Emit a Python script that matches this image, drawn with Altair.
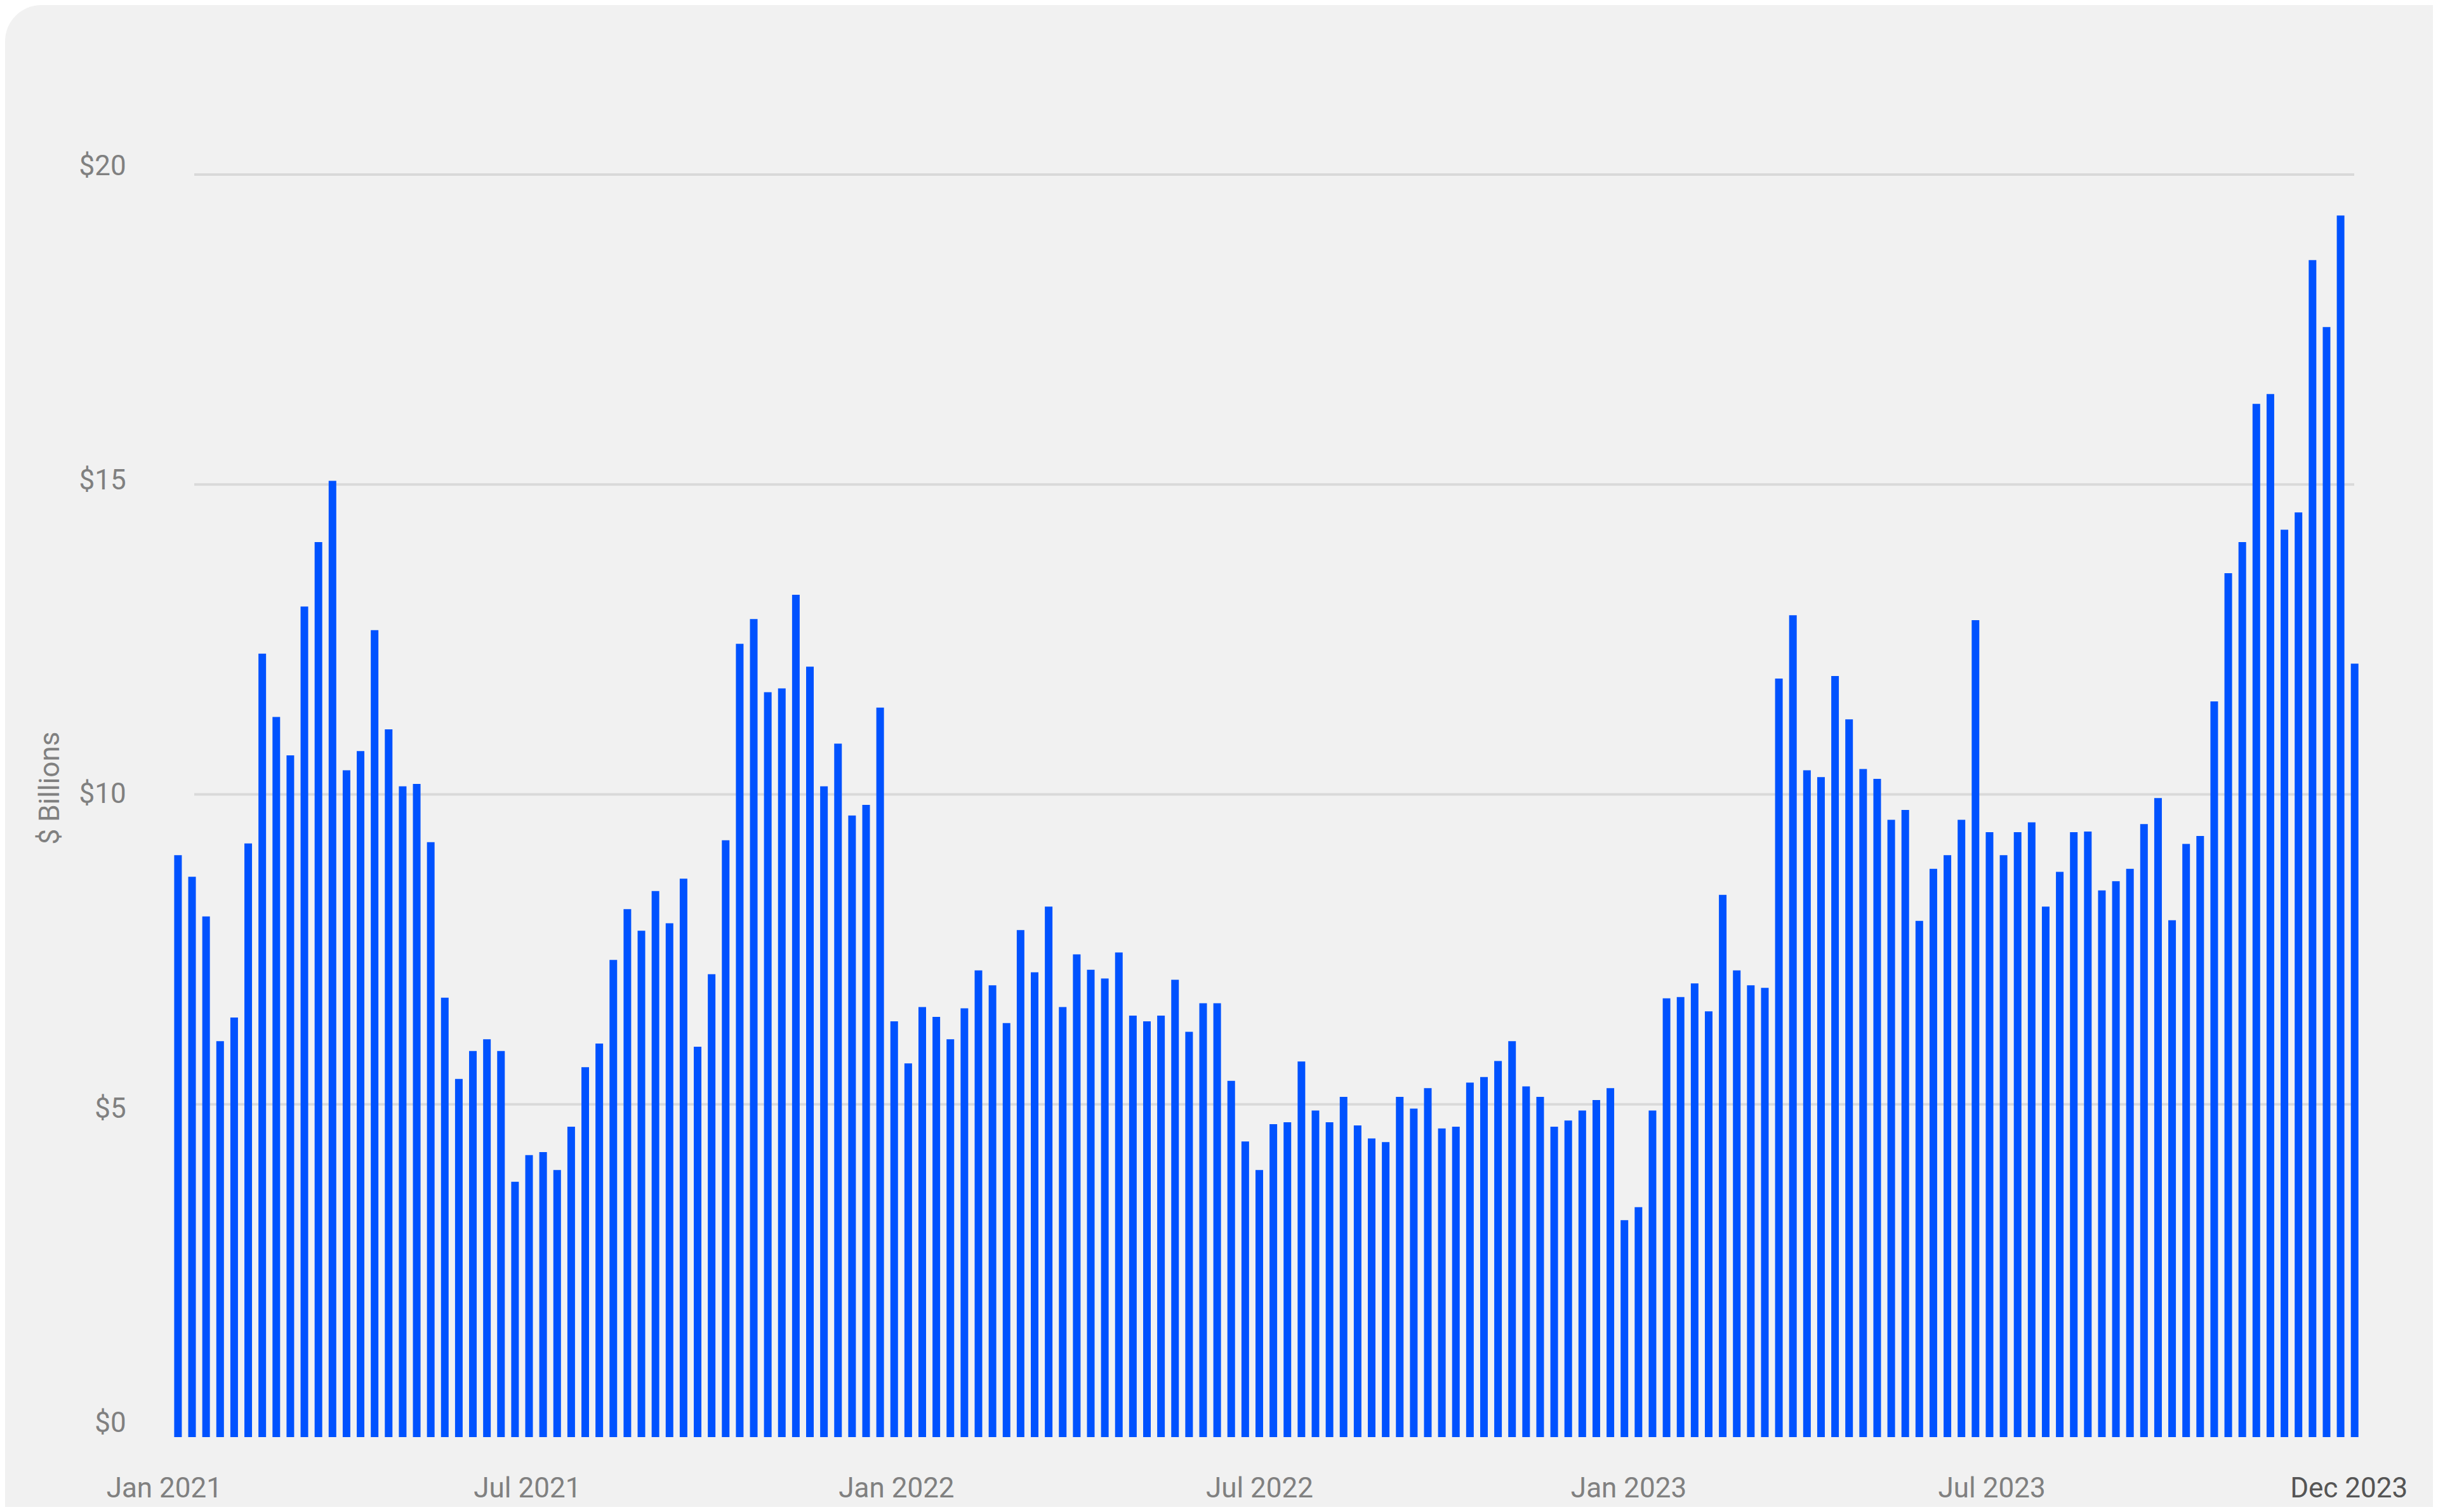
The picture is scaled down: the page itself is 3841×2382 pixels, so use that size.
import altair as alt
import pandas as pd

# Weekly values ($ billions), first week ending 2021-01-08
values = [
    9.02, 8.67, 8.03, 6.02, 6.40, 9.21, 12.27, 11.25, 10.63, 13.03, 14.07, 15.06,
    10.39, 10.70, 12.65, 11.05, 10.13, 10.17, 9.23, 6.72, 5.41, 5.86, 6.05, 5.86,
    3.75, 4.18, 4.23, 3.94, 4.64, 5.60, 5.98, 7.33, 8.15, 7.80, 8.44, 7.92, 8.64,
    5.93, 7.10, 9.26, 12.43, 12.83, 11.65, 11.71, 13.22, 12.06, 10.13, 10.82, 9.66,
    9.83, 11.40,
    6.34, 5.66, 6.57, 6.41, 6.05, 6.55, 7.16, 6.92, 6.31, 7.81, 7.13, 8.19, 6.57,
    7.42, 7.17, 7.03, 7.45, 6.43, 6.34, 6.43, 7.01, 6.17, 6.63, 6.63, 5.38, 4.40,
    3.94, 4.68, 4.71, 5.69, 4.90,
    4.71, 5.12, 4.66, 4.45, 4.39, 5.12, 4.93, 5.26, 4.61, 4.64, 5.35, 5.44, 5.70,
    6.02, 5.29, 5.12, 4.64, 4.74, 4.90, 5.07, 5.26, 3.13, 3.34, 4.90, 6.71, 6.73,
    6.95, 6.50, 8.38, 7.16, 6.92,
    6.88, 11.87, 12.89, 10.39, 10.28, 11.91, 11.21, 10.41, 10.25, 9.59, 9.75, 7.96,
    8.80, 9.02, 9.59, 12.81, 9.39, 9.02, 9.39, 9.55, 8.19, 8.75, 9.39, 9.40, 8.45,
    8.60, 8.80, 9.52, 9.94, 7.97, 9.20, 9.33, 11.50, 13.57, 14.07, 16.30, 16.46,
    14.27, 14.55, 18.62, 17.54, 19.34, 12.11,
]
weeks = pd.date_range("2021-01-08", periods=len(values), freq="7D")

y_ticks = [0, 5, 10, 15, 20]
grid_values = [5, 10, 15, 20]
x_ticks = [
    alt.DateTime(year=2021, month=1, date=1),
    alt.DateTime(year=2021, month=7, date=1),
    alt.DateTime(year=2022, month=1, date=1),
    alt.DateTime(year=2022, month=7, date=1),
    alt.DateTime(year=2023, month=1, date=1),
    alt.DateTime(year=2023, month=7, date=1),
    alt.DateTime(year=2023, month=12, date=26),
]

df = pd.DataFrame({"date": weeks, "value": values})
grid_df = pd.DataFrame({"value": grid_values})
bg_df = pd.DataFrame({"a": [0]})

W, H = 3467.7, 1989
PAD = {"left": 245.3, "top": 267, "right": 112, "bottom": 110}
BG = "#F1F1F1"
BLUE = "#0052FF"
GRAY = "#808080"
FONT = "Roboto"

xscale = alt.Scale(domain=[alt.DateTime(year=2021, month=1, date=1),
                           alt.DateTime(year=2023, month=12, date=31)])
yscale = alt.Scale(domain=[-0.3687, 20], nice=False, zero=False)

# the value labels sit slightly spread out relative to the gridlines
label_shift = {"condition": [
    {"test": "datum.value == 20", "value": -13},
    {"test": "datum.value == 15", "value": -6},
    {"test": "datum.value == 5", "value": 8},
    {"test": "datum.value == 0", "value": 15},
], "value": 0}

y_axis = alt.Axis(
    values=y_ticks, labelExpr="'$' + datum.value", grid=False, domain=False,
    ticks=False, tickSize=0, labelPadding=55, labelFontSize=44, labelFont=FONT,
    labelColor=GRAY, labelBaseline="middle", labelLimit=0, labelOffset=label_shift,
    title="$ Billions", titleFont=FONT, titleFontSize=44, titleFontWeight="normal",
    titleColor=GRAY, titleX=-161, titleY=966, titleBaseline="alphabetic",
    titleAngle=270, titleAlign="center", zindex=1)

background = alt.Chart(bg_df).mark_rect(
    color=BG, cornerRadiusTopLeft=57
).encode(
    x=alt.value(-PAD["left"]), x2=alt.value(W + PAD["right"]),
    y=alt.value(-PAD["top"]), y2=alt.value(H + PAD["bottom"]),
)

grid = alt.Chart(grid_df).mark_rule(color="#D9D9D9", strokeWidth=4).encode(
    y=alt.Y("value:Q", scale=yscale, axis=y_axis),
    x=alt.value(52.7), x2=alt.value(3455.7),
)

bars = alt.Chart(df).mark_bar(color=BLUE, width=12).encode(
    x=alt.X("date:T", scale=xscale, axis=alt.Axis(
        values=x_ticks, format="%b %Y", labelFlush=False, labelOverlap=False,
        grid=False, domain=False, ticks=False, tickSize=0, labelPadding=94,
        labelBaseline="alphabetic", labelFontSize=44, labelFont=FONT, labelLimit=0,
        labelColor={"condition": {"test": "month(datum.value) == 11", "value": "#555555"},
                    "value": GRAY},
        title=None, zindex=1)),
    y=alt.Y("value:Q", scale=yscale, axis=y_axis, stack=None),
    y2=alt.value(H),
)

chart = alt.layer(background, grid, bars).properties(
    width=W, height=H,
    autosize=alt.AutoSizeParams(type="none"),
    padding=PAD,
).configure(background="white", font=FONT).configure_view(stroke=None)

chart.save("out.html", embed_options={"renderer": "svg", "actions": False})
